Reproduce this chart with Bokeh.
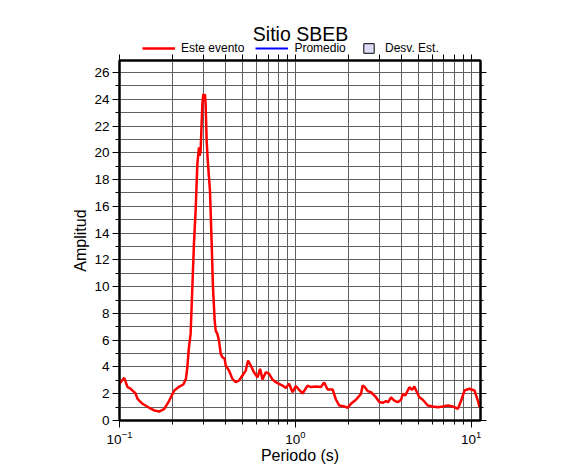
from bokeh.plotting import figure
from bokeh.layouts import column
from bokeh.models import (Range1d, LinearAxis, LogAxis, SingleIntervalTicker, FixedTicker,
                          Legend, LegendItem, Label, CustomJSTickFormatter)
from bokeh.embed import file_html
from bokeh.resources import INLINE

title_text = "Sitio SBEB"
x_label = "Periodo (s)"
y_label = "Amplitud"
legend_labels = ["Este evento", "Promedio", "Desv. Est."]
x_major_ticks = [0.1, 1, 10]

periodo = [0.1, 0.1033, 0.1064, 0.1111, 0.1155, 0.1186, 0.1234, 0.1266, 0.1352, 0.1477,
           0.1577, 0.1683, 0.1797, 0.1919, 0.2049, 0.2189, 0.2307, 0.2387, 0.2431, 0.2482,
           0.2538, 0.2596, 0.2651, 0.2710, 0.2772, 0.2830, 0.2856, 0.2894, 0.2921, 0.2960,
           0.2999, 0.3030, 0.3062, 0.3091, 0.3131, 0.3185, 0.3270, 0.3344, 0.3401, 0.3478,
           0.3524, 0.3603, 0.3680, 0.3763, 0.3848, 0.3965, 0.4018, 0.4196, 0.4387, 0.4581,
           0.4784, 0.5002, 0.5224, 0.5384, 0.5578, 0.5825, 0.6091, 0.6303, 0.6504, 0.6792,
           0.7093, 0.7416, 0.7743, 0.8084, 0.8453, 0.8827, 0.9217, 0.9639, 1.0066, 1.0511,
           1.0991, 1.1735, 1.2254, 1.3088, 1.3975, 1.4593, 1.5259, 1.6294, 1.7015, 1.7768,
           1.8972, 1.9838, 2.0716, 2.2123, 2.362, 2.4153, 2.4665, 2.579, 2.693, 2.875,
           3.002, 3.139, 3.278, 3.379, 3.501, 3.656, 3.822, 3.992, 4.082, 4.223,
           4.45, 4.611, 4.752, 4.86, 5.075, 5.306, 5.667, 6.051, 6.462, 6.9,
           7.369, 7.869, 8.403, 8.772, 9.159, 9.78, 10.44, 10.92, 11.15]
amplitud = [2.74, 2.99, 3.19, 2.49, 2.39, 2.24, 2.02, 1.62, 1.25, 0.95,
            0.75, 0.67, 0.87, 1.49, 2.24, 2.54, 2.69, 3.11, 3.98, 5.47,
            6.47, 9.96, 13.2, 15.68, 19.17, 20.41, 19.79, 20.16, 21.66, 23.65,
            24.4, 23.9, 24.4, 23.5, 20.9, 19.17, 17.18, 13.2, 9.96, 7.47,
            6.72, 6.47, 5.97, 4.98, 4.73, 4.61, 4.11, 3.73, 3.11, 2.86,
            2.99, 3.36, 3.73, 4.48, 4.11, 3.58, 3.23, 3.86, 3.06, 3.61,
            3.49, 3.06, 2.86, 2.74, 2.61, 2.43, 2.74, 2.11, 2.58, 2.29,
            2.02, 2.61, 2.50, 2.54, 2.50, 2.84, 2.32, 2.32, 1.57, 1.12,
            1.05, 0.95, 1.25, 1.55, 1.99, 2.61, 2.54, 2.20, 2.11, 1.74,
            1.38, 1.32, 1.44, 1.37, 1.72, 1.49, 1.37, 1.55, 1.99, 1.87,
            2.49, 2.29, 2.54, 2.24, 1.74, 1.55, 1.12, 1.05, 0.99, 1.05,
            1.12, 1.05, 0.87, 1.49, 2.24, 2.37, 2.24, 1.49, 0.99]

FONT = "Liberation Sans"
GRID = "#606060"
W = 570
FRAME_LEFT = 119
FRAME_W = 361

# ---------- header: title + legend (frame is aligned with the main plot's frame) ----------
h = figure(width=W, height=54, x_range=Range1d(0, 1), y_range=Range1d(0, 1),
           output_backend="svg", toolbar_location=None,
           x_axis_location=None, y_axis_location=None,
           min_border_left=FRAME_LEFT, min_border_right=W - FRAME_LEFT - FRAME_W,
           min_border_top=0, min_border_bottom=0,
           background_fill_color="white", border_fill_color="white")
h.outline_line_color = None
h.grid.visible = False

# legend proxies: one point each, placed outside the header's visible range
d_evt = h.line([-2, -1], [-2, -1], line_color="#ff0000", line_width=2.5)
d_prom = h.line([-2, -1], [-2, -1], line_color="#0000ff", line_width=2)
d_desv = h.quad(left=[-2], right=[-1], top=[-1], bottom=[-2], fill_color="#dcdcf8",
                line_color="black", line_width=1)

leg_style = dict(orientation="horizontal", padding=0, margin=0, border_line_color=None,
                 background_fill_alpha=0, label_text_font=FONT, label_text_font_size="12px",
                 label_text_color="black", label_height=12, glyph_height=12)
leg1 = Legend(items=[LegendItem(label=legend_labels[0], renderers=[d_evt]),
                     LegendItem(label=legend_labels[1], renderers=[d_prom])],
              location=(23, -1), glyph_width=33, label_standoff=6, spacing=11, **leg_style)
leg2 = Legend(items=[LegendItem(label=legend_labels[2], renderers=[d_desv])],
              location=(243, -1), glyph_width=13, label_standoff=10, spacing=0, **leg_style)
h.add_layout(leg1, "center")
h.add_layout(leg2, "center")
h.add_layout(Label(x=181, y=21, x_units="screen", y_units="screen", text=title_text,
                   text_align="center", text_baseline="alphabetic",
                   text_font=FONT, text_font_size="19.5px", text_color="black"))

# ---------- main plot ----------
p = figure(width=W, height=418, x_axis_type="log",
           x_range=Range1d(0.1, 11.3), y_range=Range1d(0, 26.9),
           output_backend="svg", toolbar_location=None,
           min_border_left=FRAME_LEFT, min_border_right=W - FRAME_LEFT - FRAME_W,
           min_border_top=6, min_border_bottom=52,
           background_fill_color="white", border_fill_color="white")
p.outline_line_color = "black"
p.outline_line_width = 2

minor_x = [m * 10.0 ** e for e in (-1, 0, 1) for m in range(2, 10)]
xticker = FixedTicker(ticks=x_major_ticks, minor_ticks=minor_x)
yticker = SingleIntervalTicker(interval=2, num_minor_ticks=2)

p.xaxis.ticker = xticker
p.yaxis.ticker = yticker

for ax in (p.xaxis[0], p.yaxis[0]):
    ax.axis_line_width = 2
    ax.axis_line_color = "black"
    ax.major_tick_line_color = "black"
    ax.minor_tick_line_color = "black"
    ax.major_tick_out = 7
    ax.major_tick_in = 0
    ax.minor_tick_out = 4
    ax.minor_tick_in = 0
    ax.major_label_text_font = FONT
    ax.major_label_text_font_size = "13.5px"
    ax.major_label_text_color = "black"
    ax.axis_label_text_font = FONT
    ax.axis_label_text_font_size = "16px"
    ax.axis_label_text_font_style = "normal"
    ax.axis_label_text_color = "black"

p.xaxis.axis_label = x_label
p.yaxis.axis_label = y_label
p.xaxis.major_label_standoff = 3
p.xaxis.axis_label_standoff = 0
p.yaxis.major_label_standoff = 3
p.yaxis.axis_label_standoff = 2

top_ax = LogAxis(ticker=xticker, formatter=CustomJSTickFormatter(code="return ''"),
                 axis_line_width=2, major_label_standoff=0,
                 major_tick_out=6, major_tick_in=0, minor_tick_out=6, minor_tick_in=0)
right_ax = LinearAxis(ticker=yticker, formatter=CustomJSTickFormatter(code="return ''"),
                      axis_line_width=2, major_label_standoff=0,
                      major_tick_out=6, major_tick_in=0, minor_tick_out=3, minor_tick_in=0)
p.add_layout(top_ax, "above")
p.add_layout(right_ax, "right")

p.xgrid.grid_line_color = GRID
p.xgrid.minor_grid_line_color = GRID
p.ygrid.grid_line_color = GRID
p.ygrid.minor_grid_line_color = GRID
for g in (p.xgrid[0], p.ygrid[0]):
    g.grid_line_width = 1
    g.minor_grid_line_width = 1
    g.grid_line_alpha = 1
    g.minor_grid_line_alpha = 1

p.line(periodo, amplitud, line_color="#ff0000", line_width=2.5)

layout = column(h, p, spacing=0)
open("out.html", "w").write(file_html(layout, INLINE))
